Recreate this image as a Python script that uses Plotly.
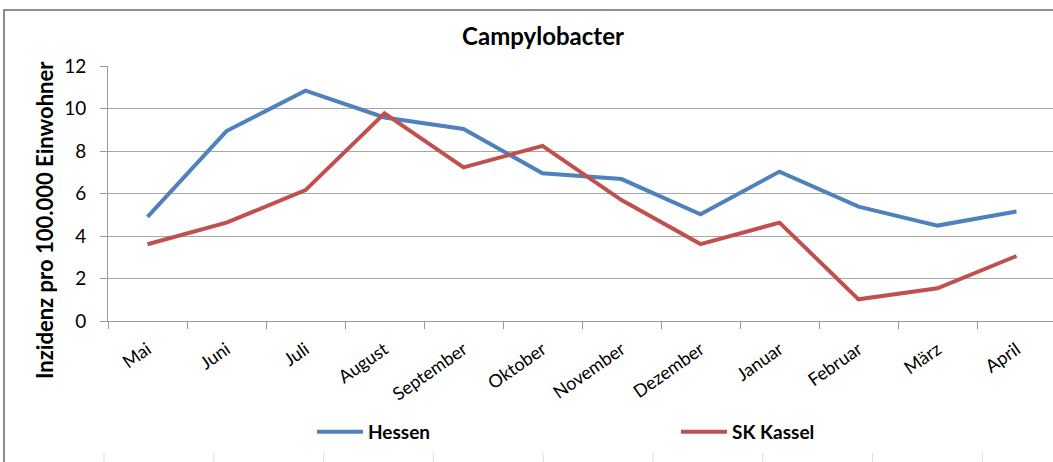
import plotly.graph_objects as go

months = ["Mai", "Juni", "Juli", "August", "September", "Oktober", "November",
          "Dezember", "Januar", "Februar", "März", "April"]
hessen = [4.9, 8.94, 10.84, 9.58, 9.04, 6.95, 6.68, 5.02, 7.03, 5.38, 4.49, 5.15]
kassel = [3.61, 4.63, 6.16, 9.77, 7.23, 8.24, 5.69, 3.62, 4.63, 1.02, 1.54, 3.06]
series_names = ["Hessen", "SK Kassel"]
colors = ["#4F81BD", "#C0504D"]

W, H = 1053, 462
L, T, B = 108, 66, 141
PW, PH = W - L, H - T - B
FONT = "Lato, Open Sans, Liberation Sans, sans-serif"

fig = go.Figure()
for name, vals, col in zip(series_names, [hessen, kassel], colors):
    fig.add_trace(go.Scatter(x=months, y=vals, mode="lines", name=name,
                             line=dict(color=col, width=4)))

def px_x(x):
    return (x - L) / PW

def px_y(y):
    return (H - B - y) / PH

shapes = [dict(type="rect", xref="paper", yref="paper",
               x0=px_x(4), x1=px_x(1100), y0=px_y(520), y1=px_y(10),
               line=dict(color="#6b6b6b", width=1.5), fillcolor="rgba(0,0,0,0)")]
for i in range(9):
    xx = 104 + i * 109.8
    shapes.append(dict(type="line", xref="paper", yref="paper",
                       x0=px_x(xx), x1=px_x(xx), y0=px_y(453), y1=px_y(462),
                       line=dict(color="#dcdcdc", width=1)))

fig.update_layout(
    width=W, height=H,
    margin=dict(l=L, r=0, t=T, b=B, autoexpand=False),
    paper_bgcolor="white", plot_bgcolor="white",
    font=dict(family=FONT, color="#000000"),
    title=dict(text="<b>Campylobacter</b>", xref="container", yref="container",
               x=543 / W, y=1 - 37 / H, xanchor="center", yanchor="middle",
               font=dict(size=24, family=FONT, color="#000")),
    xaxis=dict(type="category", range=[-0.5, -0.5 + PW / 79.0],
               tickson="boundaries", ticks="outside", ticklen=7, tickcolor="#9a9a9a",
               showline=True, linecolor="#9a9a9a", linewidth=1, showgrid=False,
               tickangle=-35, tickfont=dict(size=18, family=FONT, color="#000"),
               ticklabelstandoff=10),
    yaxis=dict(range=[0, 12], dtick=2, tick0=0, showgrid=True, gridcolor="#a6a6a6",
               gridwidth=1, showline=True, linecolor="#9a9a9a", linewidth=1,
               ticks="outside", ticklen=7, tickcolor="#9a9a9a", zeroline=False,
               tickfont=dict(size=19, family=FONT, color="#000"),
               ticklabelstandoff=10),
    legend=dict(orientation="h", x=px_x(312), y=px_y(432), xanchor="left",
                yanchor="middle", itemwidth=46, entrywidth=303, entrywidthmode="pixels",
                font=dict(size=19, family=FONT, color="#000", weight="bold"),
                bgcolor="rgba(0,0,0,0)"),
    shapes=shapes,
    annotations=[dict(text="<b>Inzidenz pro 100.000 Einwohner</b>", textangle=-90,
                      xref="paper", yref="paper", x=px_x(44), y=px_y(220),
                      xanchor="center", yanchor="middle", showarrow=False,
                      font=dict(size=22, family=FONT, color="#000"))],
)

fig.write_html("out.html", config={"displayModeBar": False},
               post_script="document.body.style.margin='0';document.body.style.overflow='hidden';")
